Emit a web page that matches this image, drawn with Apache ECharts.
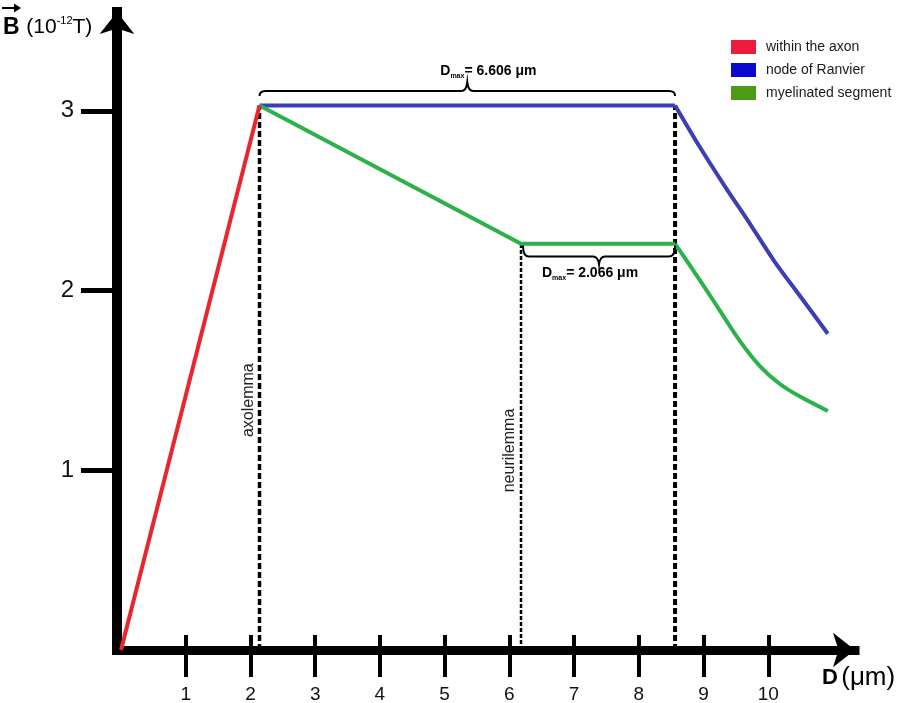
<!DOCTYPE html>
<html><head><meta charset="utf-8">
<script src="https://cdn.jsdelivr.net/npm/echarts@6/dist/echarts.min.js"></script>
<style>html,body{margin:0;padding:0;background:#fff}#c{width:900px;height:703px}</style>
</head><body><div id="c"></div><script>
// ---- data ----
const xTicks = [1, 2, 3, 4, 5, 6, 7, 8, 9, 10];
const yTicks = [1, 2, 3];
const seriesNames = ['within the axon', 'node of Ranvier', 'myelinated segment'];
const redX = [0, 2.14];
const redY = [0, 3.03];
const blueX = [2.14, 8.56, 8.94, 9.33, 9.72, 10.10, 10.49, 10.92];
const blueY = [3.03, 3.03, 2.80, 2.58, 2.37, 2.16, 1.97, 1.76];
const greenX = [2.14, 6.18, 8.56, 8.94, 9.25, 9.56, 9.87, 10.18, 10.49, 10.92];
const greenY = [3.03, 2.26, 2.26, 2.06, 1.89, 1.72, 1.58, 1.48, 1.41, 1.33];
const boundaryX = [2.14, 6.18, 8.56];
const boundaryTop = [3.03, 2.26, 3.03];
const boundaryLabel = ['axolemma', 'neurilemma', ''];
const boundaryLabelY = [1.39, 1.11, 0];
const braceStart = [2.14, 6.21];
const braceEnd = [8.56, 8.56];
const braceY = [3.11, 2.19];
const braceValue = ['6.606', '2.066'];

// ---- styles ----
const FONT = '"Liberation Sans", Arial, sans-serif';
const lineColors = ['#e8262c', '#3b3eb6', '#2bb24b'];
const legendColors = ['#ee1c3c', '#0a0ace', '#4c9a18'];
const braceStyle = [
  {hook: 5, tip: 9, dx: -27, dy: -11},
  {hook: -11, tip: -8, dx: -57, dy: 9}
];
const dashStyles = [
  {width: 3.5, dash: [6, 3]},
  {width: 2.5, dash: [4, 2]},
  {width: 4, dash: [6, 3]}
];

const zip = (xs, ys) => xs.map((x, i) => [x, ys[i]]);

const series = [];
boundaryX.forEach((x, i) => {
  series.push({
    type: 'line', silent: true, symbol: 'none', z: 1,
    data: [[x, 0], [x, boundaryTop[i]]],
    lineStyle: {color: '#000', width: dashStyles[i].width, type: dashStyles[i].dash}
  });
});
function addCurve(name, color, pts, cornerIdx, z) {
  // straight part up to the corner, smooth decay after it
  series.push({name, type: 'line', symbol: 'none', z, data: pts.slice(0, cornerIdx + 1),
    itemStyle: {color}, lineStyle: {color, width: 4, join: 'miter'}});
  series.push({name, type: 'line', symbol: 'none', z, smooth: 0.3, data: pts.slice(cornerIdx),
    itemStyle: {color}, lineStyle: {color, width: 4}});
}
addCurve(seriesNames[1], lineColors[1], zip(blueX, blueY), 1, 3);
addCurve(seriesNames[2], lineColors[2], zip(greenX, greenY), 2, 4);
series.push({name: seriesNames[0], type: 'line', symbol: 'none', z: 5, data: zip(redX, redY),
  itemStyle: {color: lineColors[0]}, lineStyle: {color: lineColors[0], width: 4}});

// braces
series.push({
  type: 'custom', silent: true, clip: false, z: 6,
  data: braceStart.map((s, i) => [s, braceEnd[i], braceY[i]]),
  encode: {x: [0, 1], y: 2},
  renderItem: (params, api) => {
    const i = params.dataIndex;
    const a = api.coord([api.value(0), api.value(2)]);
    const b = api.coord([api.value(1), api.value(2)]);
    const st = braceStyle[i];
    const y = a[1], xm = (a[0] + b[0]) / 2, h = st.hook, t = st.tip;
    const p = `M${a[0]} ${y + h} Q${a[0]} ${y} ${a[0] + 6} ${y} L${xm - 6} ${y} Q${xm - 1} ${y} ${xm} ${y - t} ` +
              `Q${xm + 1} ${y} ${xm + 6} ${y} L${b[0] - 6} ${y} Q${b[0]} ${y} ${b[0]} ${y + h}`;
    return {type: 'group', children: [
      {type: 'path', shape: {pathData: p}, style: {fill: 'none', stroke: '#000', lineWidth: 2}},
      {type: 'text', x: xm + st.dx, y: y - t + st.dy, style: {
        text: '{d|D}{s|max}{t|= ' + braceValue[i] + ' μm}',
        verticalAlign: 'middle', align: 'left',
        rich: {
          d: {fontFamily: FONT, fontSize: 14, fontWeight: 'bold', fill: '#000', lineHeight: 16},
          s: {fontFamily: FONT, fontSize: 7, fontWeight: 'bold', fill: '#000', lineHeight: 7, verticalAlign: 'bottom'},
          t: {fontFamily: FONT, fontSize: 14, fontWeight: 'bold', fill: '#000', lineHeight: 16}
        }
      }}
    ]};
  }
});

// boundary labels
series.push({
  type: 'custom', silent: true, clip: false, z: 6,
  data: boundaryX.map((x, i) => [x, boundaryLabelY[i]]).slice(0, 2),
  encode: {x: 0, y: 1},
  renderItem: (params, api) => {
    const i = params.dataIndex;
    const p = api.coord([api.value(0), api.value(1)]);
    return {type: 'text', x: p[0] - 11, y: p[1], rotation: Math.PI / 2, style: {
      text: boundaryLabel[i], align: 'center', verticalAlign: 'middle',
      fontFamily: FONT, fontSize: 16, fill: '#222'
    }};
  }
});

const option = {
  backgroundColor: '#fff',
  animation: false,
  grid: {left: 121, right: 45, top: 12, bottom: 53, outerBoundsMode: 'none'},
  legend: {
    orient: 'vertical', left: 731, top: 40, padding: 0, itemGap: 9,
    itemWidth: 25, itemHeight: 14, icon: 'rect',
    textStyle: {fontFamily: FONT, fontSize: 14, color: '#1a1a1a', padding: [0, 0, 0, 5]},
    data: seriesNames.map((n, i) => ({name: n, itemStyle: {color: legendColors[i]}}))
  },
  xAxis: [
    {
      type: 'value', min: 0, max: 11.34, position: 'bottom',
      axisLine: {show: true, onZero: false, symbol: ['none', 'arrow'], symbolSize: [26, 22],
        lineStyle: {color: '#000', width: 9, cap: 'square'}},
      axisTick: {show: true, customValues: xTicks, length: 27, lineStyle: {color: '#000', width: 4}},
      axisLabel: {show: true, customValues: xTicks, margin: 35, fontSize: 19, color: '#111', fontFamily: FONT},
      splitLine: {show: false}
    },
    {
      type: 'value', min: 0, max: 11.34, position: 'top',
      axisLine: {show: false, onZero: true},
      axisTick: {show: true, customValues: xTicks, length: 15, lineStyle: {color: '#000', width: 4}},
      axisLabel: {show: false},
      splitLine: {show: false}
    }
  ],
  yAxis: {
    type: 'value', min: 0, max: 3.55, offset: 4,
    axisLine: {show: true, onZero: false, symbol: ['none', 'arrow'], symbolSize: [26, 22],
      lineStyle: {color: '#000', width: 10, cap: 'square'}},
    axisTick: {show: true, customValues: yTicks, length: 36, lineStyle: {color: '#000', width: 5}},
    axisLabel: {show: true, customValues: yTicks, margin: 43, fontSize: 24, color: '#111', fontFamily: FONT},
    splitLine: {show: false}
  },
  graphic: [
    {type: 'text', left: 3, top: 15, style: {
      text: '{b|B}  {n|(10}{u|-12}{n|T)}',
      rich: {
        b: {fontFamily: FONT, fontSize: 23, fontWeight: 'bold', fill: '#000', lineHeight: 25},
        n: {fontFamily: FONT, fontSize: 21, fill: '#000', lineHeight: 25},
        u: {fontFamily: FONT, fontSize: 11, fill: '#000', lineHeight: 11, verticalAlign: 'top'}
      }
    }},
    {type: 'line', shape: {x1: 2, y1: 8, x2: 17, y2: 8}, style: {stroke: '#000', lineWidth: 2}},
    {type: 'polygon', shape: {points: [[14, 3.5], [21, 8], [14, 12.5]]}, style: {fill: '#000'}},
    {type: 'text', left: 822, top: 665, style: {
      text: '{d|D} {p|(μm)}',
      rich: {
        d: {fontFamily: FONT, fontSize: 22, fontWeight: 'bold', fill: '#000', lineHeight: 27},
        p: {fontFamily: FONT, fontSize: 26, fill: '#000', lineHeight: 27}
      }
    }}
  ],
  series: series
};

const chart = echarts.init(document.getElementById('c'), null, {renderer: 'canvas'});
chart.setOption(option);
</script></body></html>
